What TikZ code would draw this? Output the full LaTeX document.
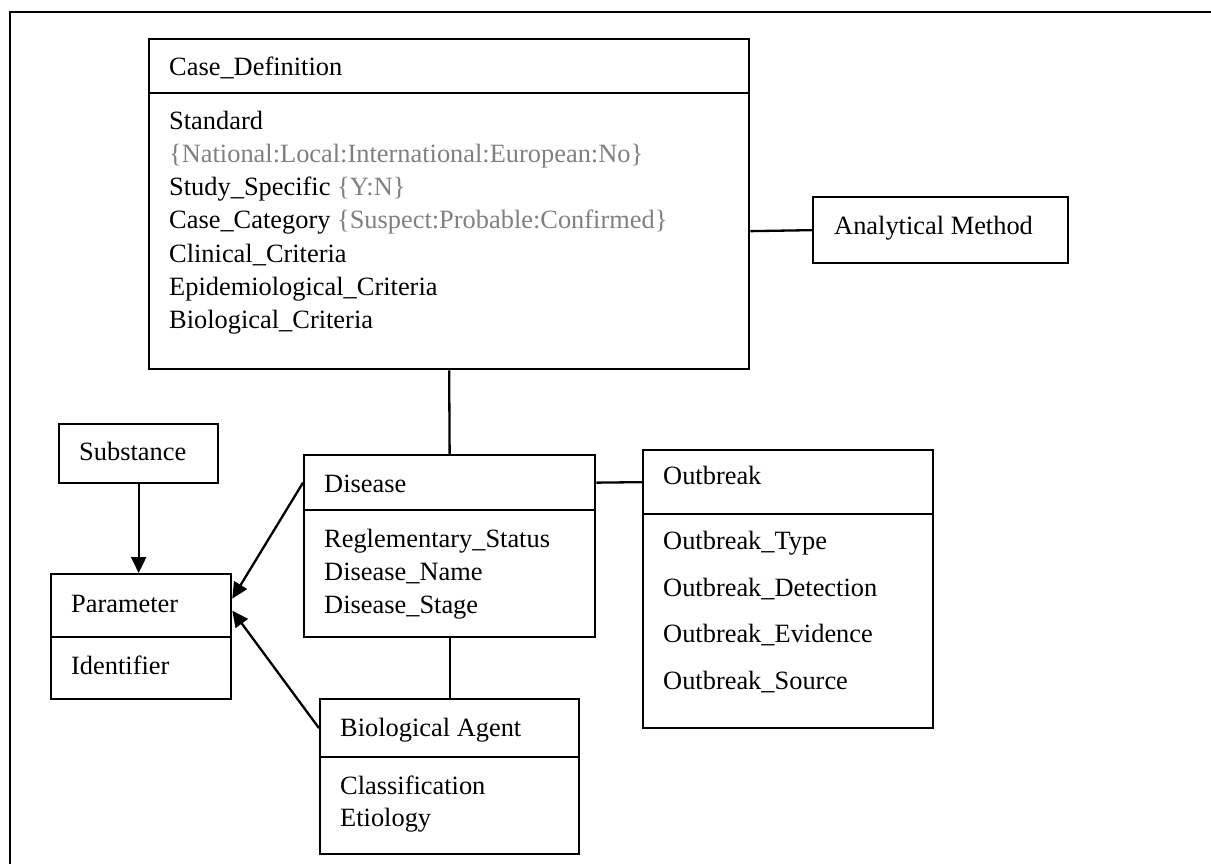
\documentclass[tikz,border=0pt]{standalone}
\usepackage{fontspec}
\setmainfont{Liberation Serif}
\usetikzlibrary{arrows.meta}
\definecolor{enumgray}{gray}{0.5}
\newcommand{\enumv}[1]{\textcolor{enumgray}{#1}}
\tikzset{
  cls/.style={draw, line width=2.3pt, inner sep=0pt, anchor=north west},
  txt/.style={anchor=base west, inner sep=0pt, font=\fontsize{26.4}{33}\selectfont},
  link/.style={line width=2.3pt},
  arr/.style={line width=2.3pt, -{Triangle[length=16pt,width=15pt]}},
}
\begin{document}
\begin{tikzpicture}[x=1pt,y=-1pt]
\useasboundingbox (0,0) rectangle (1211,864);
% page frame
\draw[line width=2.3pt] (10,864) -- (10,12) -- (1211,12);

% Case_Definition
\node[cls, minimum width=600pt, minimum height=54pt]  (cdh) at (148,38) {};
\node[cls, minimum width=600pt, minimum height=276pt] (cdb) at (148,92) {};
\node[txt] (cdt)  at (169,76)  {Case\_Definition};
\node[txt] (cda1) at (169,130) {Standard};
\node[txt] (cda2) at (169,163) {\enumv{\{National:Local:International:European:No\}}};
\node[txt] (cda3) at (169,196) {Study\_Specific \enumv{\{Y:N\}}};
\node[txt] (cda4) at (169,229) {Case\_Category \enumv{\{Suspect:Probable:Confirmed\}}};
\node[txt] (cda5) at (169,262) {Clinical\_Criteria};
\node[txt] (cda6) at (169,295) {Epidemiological\_Criteria};
\node[txt] (cda7) at (169,328) {Biological\_Criteria};

% Analytical Method
\node[cls, minimum width=255pt, minimum height=66pt] (am) at (812,196) {};
\node[txt] (amt) at (834,234) {Analytical Method};

% Substance
\node[cls, minimum width=159pt, minimum height=59pt] (sub) at (58,423) {};
\node[txt] (subt) at (79,460) {Substance};

% Parameter
\node[cls, minimum width=180pt, minimum height=63pt] (parh) at (50,573) {};
\node[cls, minimum width=180pt, minimum height=62pt] (parb) at (50,636) {};
\node[txt] (part) at (71,612) {Parameter};
\node[txt] (para1) at (71,674) {Identifier};

% Disease
\node[cls, minimum width=291pt, minimum height=55pt]  (dish) at (303,454) {};
\node[cls, minimum width=291pt, minimum height=127pt] (disb) at (303,509) {};
\node[txt] (dist)  at (324,492) {Disease};
\node[txt] (disa1) at (324,547) {Reglementary\_Status};
\node[txt] (disa2) at (324,580) {Disease\_Name};
\node[txt] (disa3) at (324,613) {Disease\_Stage};

% Outbreak
\node[cls, minimum width=290pt, minimum height=64pt]  (obh) at (642,449) {};
\node[cls, minimum width=290pt, minimum height=214pt] (obb) at (642,513) {};
\node[txt] (obt)  at (663,484) {Outbreak};
\node[txt] (oba1) at (663,549) {Outbreak\_Type};
\node[txt] (oba2) at (663,596) {Outbreak\_Detection};
\node[txt] (oba3) at (663,642) {Outbreak\_Evidence};
\node[txt] (oba4) at (663,689) {Outbreak\_Source};

% Biological Agent
\node[cls, minimum width=259pt, minimum height=58pt] (bah) at (319,698) {};
\node[cls, minimum width=259pt, minimum height=97pt] (bab) at (319,756) {};
\node[txt] (bat)  at (340,736) {Biological Agent};
\node[txt] (baa1) at (340,794) {Classification};
\node[txt] (baa2) at (340,826) {Etiology};

% associations
\draw[link] (cdb.south) -- (dish.north);
\draw[link] (cdb.east) -- (am.west);
\draw[link] (dish.east) -- (obh.west);
\draw[link] (disb.south) -- (bah.north);
\draw[arr] (sub.south) -- (sub.south |- parh.north);
\draw[arr] (dish.west) -- ([yshift=7pt]parh.east);
\draw[arr] (bah.west) -- ([yshift=-5pt]parh.east);
\end{tikzpicture}
\end{document}
